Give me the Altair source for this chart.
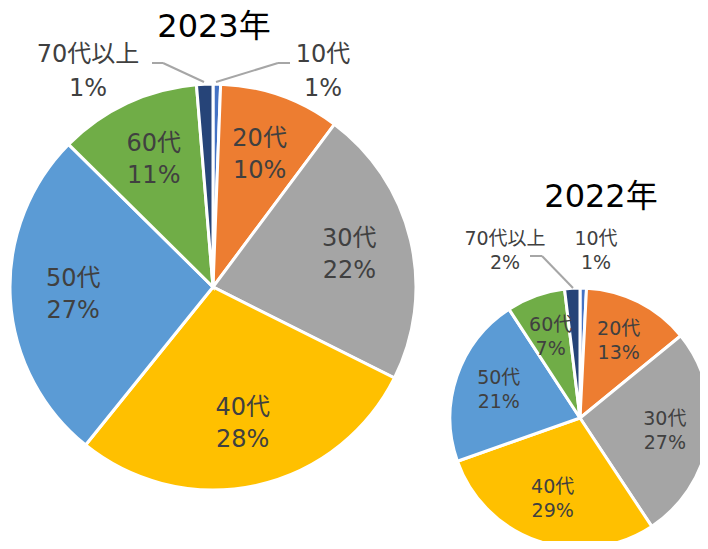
import altair as alt
import pandas as pd

ages = ["10代", "20代", "30代", "40代", "50代", "60代", "70代以上"]
colors = ["#4472C4", "#ED7D31", "#A5A5A5", "#FFC000", "#5B9BD5", "#70AD47", "#264478"]

share_2023 = [0.6, 9.6, 22.2, 28.4, 26.6, 11.3, 1.3]
pct_2023 = [1, 10, 22, 28, 27, 11, 1]
share_2022 = [0.8, 13.3, 26.6, 28.9, 21.2, 7.3, 1.9]
pct_2022 = [1, 13, 27, 29, 21, 7, 2]

FONT = "DejaVu Sans, Noto Sans CJK JP"
TXT = "#404040"


def frame(shares, pcts):
    return pd.DataFrame({
        "idx": list(range(len(ages))),
        "age": ages,
        "share": shares,
        "label": [f"{a}\n{p}%" if p >= 5 else "" for a, p in zip(ages, pcts)],
    })


df23 = frame(share_2023, pct_2023)
df22 = frame(share_2022, pct_2022)

color = alt.Color("age:N", scale=alt.Scale(domain=ages, range=colors), legend=None)
theta = alt.Theta("share:Q", stack=True)
order = alt.Order("idx:Q", sort="ascending")


def pie(df, cx, cy, r, fs, lh, rf):
    arcs = alt.Chart(df).mark_arc(radius=r, stroke="white", strokeWidth=3).encode(
        theta=theta, order=order, color=color, x=alt.value(cx), y=alt.value(cy)
    )
    text = alt.Chart(df).mark_text(
        radius=r * rf, lineBreak="\n", fontSize=fs, lineHeight=lh, font=FONT,
        color=TXT, align="center", baseline="middle", dy=-lh / 2
    ).encode(theta=theta, order=order, text="label:N", x=alt.value(cx), y=alt.value(cy))
    return [arcs, text]


def note(txt, x, y, fs, lh, color=TXT, baseline="middle", dy=0):
    return alt.Chart(pd.DataFrame({"t": [txt]})).mark_text(
        lineBreak="\n", fontSize=fs, lineHeight=lh, font=FONT, color=color,
        align="center", baseline=baseline, dy=dy
    ).encode(text="t:N", x=alt.value(x), y=alt.value(y))


def seg(x1, y1, x2, y2):
    return alt.Chart(pd.DataFrame({"a": [0]})).mark_rule(color="#A6A6A6", strokeWidth=2).encode(
        x=alt.value(x1), y=alt.value(y1), x2=alt.value(x2), y2=alt.value(y2)
    )


layers = []
layers += pie(df23, 205, 279, 203, 24, 32, 0.69)
layers += pie(df22, 572, 410, 130, 19, 24, 0.66)
layers += [
    note("2023年", 206, 29, 32, 36, color="#000000", baseline="alphabetic"),
    note("2022年", 593, 199, 32, 36, color="#000000", baseline="alphabetic"),
    note("70代以上\n1%", 80, 64, 24, 34, dy=-17),
    note("10代\n1%", 315, 64, 24, 34, dy=-17),
    note("70代以上\n2%", 497, 243, 19, 24, dy=-12),
    note("10代\n1%", 588, 243, 19, 24, dy=-12),
    seg(208, 74, 270, 55), seg(270, 55, 282, 55),
    seg(196, 74, 155, 55), seg(155, 55, 144, 55),
    seg(565, 280, 534, 248), seg(534, 248, 522, 248),
]

chart = alt.layer(*layers).properties(
    width=692, height=533, autosize=alt.AutoSizeParams(type="none"), padding=0
).configure_view(stroke=None)

chart.save("out.html", embed_options={"renderer": "svg", "actions": False})
